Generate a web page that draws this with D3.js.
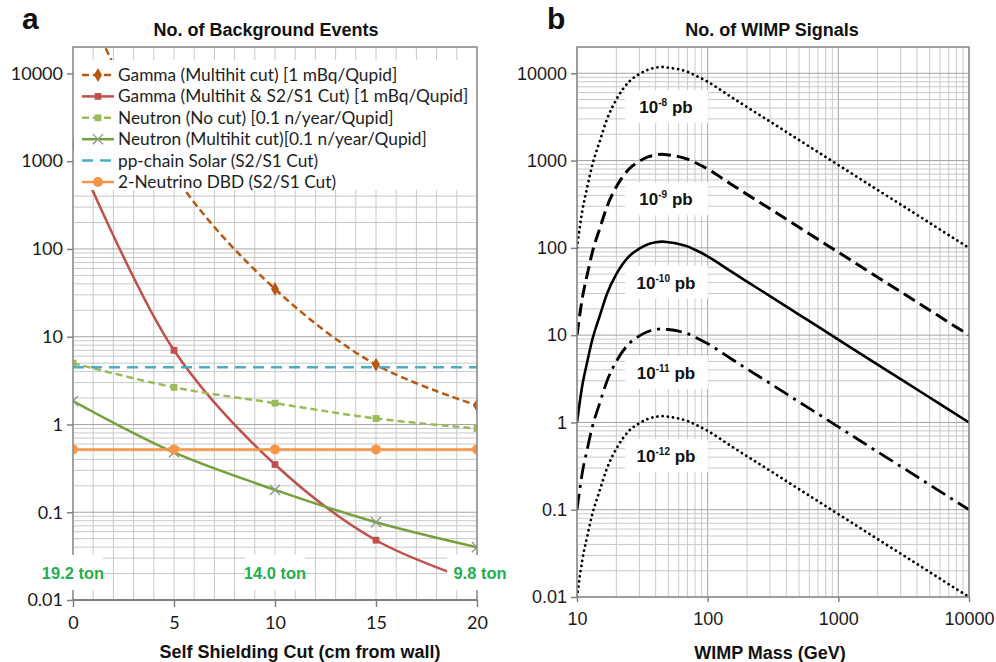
<!DOCTYPE html>
<html>
<head>
<meta charset="utf-8">
<script src="https://cdn.jsdelivr.net/npm/d3@7"></script>
<style>
  html, body { margin: 0; padding: 0; background: #ffffff; }
  svg { display: block; }
</style>
</head>
<body>
<svg id="chart" width="996" height="662"></svg>
<script>
// ---------- Panel a: background events vs. self-shielding cut ----------
const shieldCut = [0, 5, 10, 15, 20];
const gammaMultihit = [120000, 700, 35, 4.8, 1.65];
const gammaMultihitS2S1 = [1500, 7, 0.35, 0.048, 0.016];
const neutronNoCut = [5.0, 2.65, 1.75, 1.17, 0.9];
const neutronMultihit = [1.85, 0.48, 0.18, 0.077, 0.04];
const ppChainSolar = [4.5, 4.5, 4.5, 4.5, 4.5];
const twoNeutrinoDBD = [0.52, 0.52, 0.52, 0.52, 0.52];
const seriesNamesA = [
  "Gamma (Multihit cut) [1 mBq/Qupid]",
  "Gamma (Multihit & S2/S1 Cut) [1 mBq/Qupid]",
  "Neutron (No cut) [0.1 n/year/Qupid]",
  "Neutron (Multihit cut)[0.1 n/year/Qupid]",
  "pp-chain Solar (S2/S1 Cut)",
  "2-Neutrino DBD (S2/S1 Cut)"
];
const fiducialCut = [0, 10, 20];
const fiducialMass = ["19.2 ton", "14.0 ton", "9.8 ton"];
const cutTicks = [0, 5, 10, 15, 20];
const countTicks = [0.01, 0.1, 1, 10, 100, 1000, 10000];

// ---------- Panel b: WIMP signals vs. WIMP mass ----------
const wimpMass = [10, 11, 12, 13, 15, 17, 20, 25, 30, 35, 40, 45, 50, 60, 70, 80, 100, 150, 200, 300, 500, 700, 1000, 2000, 3000, 5000, 7000, 10000];
const signal1e8 = [100, 270, 500, 850, 1700, 3000, 5000, 8000, 9800, 11000, 11600, 11800, 11600, 11100, 10400, 9500, 8000, 5400, 4100, 2800, 1720, 1250, 890, 460, 314, 193, 140, 100];
const signal1e9 = [10, 27, 50, 85, 170, 300, 500, 800, 980, 1100, 1160, 1180, 1160, 1110, 1040, 950, 800, 540, 410, 280, 172, 125, 89, 46, 31.4, 19.3, 14.0, 10];
const signal1e10 = [1, 2.7, 5.0, 8.5, 17, 30, 50, 80, 98, 110, 116, 118, 116, 111, 104, 95, 80, 54, 41, 28, 17.2, 12.5, 8.9, 4.6, 3.14, 1.93, 1.40, 1.0];
const signal1e11 = [0.1, 0.27, 0.5, 0.85, 1.7, 3.0, 5.0, 8.0, 9.8, 11, 11.6, 11.8, 11.6, 11.1, 10.4, 9.5, 8.0, 5.4, 4.1, 2.8, 1.72, 1.25, 0.89, 0.46, 0.314, 0.193, 0.140, 0.1];
const signal1e12 = [0.01, 0.027, 0.05, 0.085, 0.17, 0.3, 0.5, 0.8, 0.98, 1.1, 1.16, 1.18, 1.16, 1.11, 1.04, 0.95, 0.8, 0.54, 0.41, 0.28, 0.172, 0.125, 0.089, 0.046, 0.0314, 0.0193, 0.0140, 0.01];
const crossSectionExp = ["-8", "-9", "-10", "-11", "-12"];
const massTicks = [10, 100, 1000, 10000];

// ---------- shared styling ----------
const boldFont = "'Liberation Sans', Arial, sans-serif";
const tickFontA = "Lato, 'Open Sans', sans-serif";
const tickFontB = "'Liberation Sans', Arial, sans-serif";
const legendFont = "Lato, 'Open Sans', sans-serif";
const gridMinor = "#c8c8c8";
const gridMajor = "#a4a4a4";
const frameColor = "#8c8c8c";
const tonGreen = "#1faf4b";

const svg = d3.select("#chart");

function fmtCount(d) { return d < 1 ? String(d) : d3.format("d")(d); }

// =====================================================================
// Panel a
// =====================================================================
const ax = d3.scaleLinear().domain([0, 20]).range([73, 477]);
const ay = d3.scaleLog().domain([0.01, 20000]).range([600, 47]);
const gA = svg.append("g");

gA.append("clipPath").attr("id", "clipA")
  .append("rect").attr("x", ax(0)).attr("y", ay(20000))
  .attr("width", ax(20) - ax(0)).attr("height", ay(0.01) - ay(20000));

// grid
const gridA = gA.append("g");
gridA.selectAll("line.v").data(d3.range(0, 21, 1)).join("line")
  .attr("x1", d => ax(d)).attr("x2", d => ax(d))
  .attr("y1", ay(20000)).attr("y2", ay(0.01))
  .attr("stroke", gridMinor).attr("stroke-width", 1);
gridA.selectAll("line.h").data(ay.ticks().filter(v => v <= 20000)).join("line")
  .attr("x1", ax(0)).attr("x2", ax(20))
  .attr("y1", d => ay(d)).attr("y2", d => ay(d))
  .attr("stroke", d => countTicks.includes(d) ? gridMajor : gridMinor)
  .attr("stroke-width", 1);

const seriesA = [
  { name: seriesNamesA[0], values: gammaMultihit, color: "#b9570f", dash: "7,4", marker: "diamond", smooth: true },
  { name: seriesNamesA[1], values: gammaMultihitS2S1, color: "#c0504d", dash: null, marker: "square", smooth: true },
  { name: seriesNamesA[2], values: neutronNoCut, color: "#9bbb59", dash: "7,4", marker: "square", smooth: true },
  { name: seriesNamesA[3], values: neutronMultihit, color: "#77a03c", dash: null, marker: "x", smooth: true },
  { name: seriesNamesA[4], values: ppChainSolar, color: "#4bacc6", dash: "11,7", marker: null, smooth: false },
  { name: seriesNamesA[5], values: twoNeutrinoDBD, color: "#f79646", dash: null, marker: "circle", smooth: false }
];

function drawMarker(sel, type, color) {
  if (type === "diamond") {
    sel.append("path").attr("d", d3.symbol(d3.symbolDiamond, 55)()).attr("fill", color);
  } else if (type === "square") {
    sel.append("path").attr("d", d3.symbol(d3.symbolSquare, 46)()).attr("fill", color);
  } else if (type === "x") {
    sel.append("path").attr("d", d3.symbol(d3.symbolTimes, 70)())
      .attr("fill", "none").attr("stroke", "#8a9a80").attr("stroke-width", 1.3);
  } else if (type === "circle") {
    sel.append("path").attr("d", d3.symbol(d3.symbolCircle, 78)()).attr("fill", color);
  }
}

const plotA = gA.append("g").attr("clip-path", "url(#clipA)");
seriesA.forEach(s => {
  const pts = shieldCut.map((c, i) => [c, s.values[i]]);
  const line = d3.line().x(d => ax(d[0])).y(d => ay(d[1]))
    .curve(s.smooth ? d3.curveCatmullRom.alpha(0.5) : d3.curveLinear);
  plotA.append("path").attr("d", line(pts))
    .attr("fill", "none").attr("stroke", s.color).attr("stroke-width", 2.5)
    .attr("stroke-dasharray", s.dash);
  if (s.marker) {
    pts.forEach(p => {
      const m = plotA.append("g").attr("transform", `translate(${ax(p[0])},${ay(p[1])})`);
      drawMarker(m, s.marker, s.color);
    });
  }
});

// legend (white box over the plot)
const legA = gA.append("g");
legA.append("rect").attr("x", ax(0) + 1).attr("y", 60)
  .attr("width", ax(20) - ax(0) - 2).attr("height", 130).attr("fill", "#ffffff");
seriesA.forEach((s, i) => {
  const y = 75 + i * 21.4;
  legA.append("line").attr("x1", 82).attr("x2", 114).attr("y1", y).attr("y2", y)
    .attr("stroke", s.color).attr("stroke-width", 2.5).attr("stroke-dasharray", s.dash);
  if (s.marker) {
    const m = legA.append("g").attr("transform", `translate(98,${y})`);
    drawMarker(m, s.marker, s.color);
  }
  legA.append("text").attr("x", 118).attr("y", y + 6)
    .attr("font-family", legendFont).attr("font-size", 17.3).attr("fill", "#1e1e1e")
    .text(s.name);
});

// frame
gA.append("rect").attr("x", ax(0)).attr("y", ay(20000))
  .attr("width", ax(20) - ax(0)).attr("height", ay(0.01) - ay(20000))
  .attr("fill", "none").attr("stroke", frameColor).attr("stroke-width", 1.5);

// fiducial-mass labels
fiducialCut.forEach((c, i) => {
  const cx = ax(c), cy = 573;
  gA.append("rect").attr("x", cx - 30).attr("y", cy - 18).attr("width", 60).attr("height", 35)
    .attr("fill", "#ffffff");
  gA.append("text").attr("x", cx + (i === 2 ? 3 : 0)).attr("y", cy + 6)
    .attr("text-anchor", "middle").attr("font-family", boldFont).attr("font-weight", "bold")
    .attr("font-size", 16.5).attr("fill", tonGreen).text(fiducialMass[i]);
});

// axes
const axisLeftA = gA.append("g").attr("transform", `translate(${ax(0)},0)`)
  .call(d3.axisLeft(ay).tickValues(countTicks).tickFormat(fmtCount).tickSize(6).tickPadding(4));
const axisBottomA = gA.append("g").attr("transform", `translate(0,${ay(0.01)})`)
  .call(d3.axisBottom(ax).tickValues(cutTicks).tickSize(7).tickPadding(9));
[axisLeftA, axisBottomA].forEach(a => {
  a.select(".domain").remove();
  a.selectAll(".tick line").attr("stroke", "#808080").attr("stroke-width", 1.5);
  a.selectAll(".tick text").attr("font-family", tickFontA).attr("font-size", 18).attr("fill", "#1a1a1a");
});
gA.append("line").attr("x1", ax(0)).attr("x2", ax(20)).attr("y1", ay(0.01)).attr("y2", ay(0.01))
  .attr("stroke", "#808080").attr("stroke-width", 2);

// titles
svg.append("text").attr("x", 22).attr("y", 29).attr("font-family", "'Liberation Sans', Arial, sans-serif")
  .attr("font-weight", "bold").attr("font-size", 30).attr("fill", "#111").text("a");
svg.append("text").attr("x", 266).attr("y", 36).attr("text-anchor", "middle")
  .attr("font-family", boldFont).attr("font-weight", "bold").attr("font-size", 18).attr("fill", "#111")
  .text("No. of Background Events");
svg.append("text").attr("x", 300).attr("y", 658).attr("text-anchor", "middle")
  .attr("font-family", boldFont).attr("font-weight", "bold").attr("font-size", 18).attr("fill", "#111")
  .text("Self Shielding Cut (cm from wall)");

// =====================================================================
// Panel b
// =====================================================================
const bx = d3.scaleLog().domain([10, 10000]).range([577, 969]);
const by = d3.scaleLog().domain([0.01, 20000]).range([597, 47]);
const gB = svg.append("g");

gB.append("clipPath").attr("id", "clipB")
  .append("rect").attr("x", bx(10)).attr("y", by(20000))
  .attr("width", bx(10000) - bx(10)).attr("height", by(0.01) - by(20000));

const gridB = gB.append("g");
gridB.selectAll("line.v").data(bx.ticks()).join("line")
  .attr("x1", d => bx(d)).attr("x2", d => bx(d))
  .attr("y1", by(20000)).attr("y2", by(0.01))
  .attr("stroke", d => massTicks.includes(d) ? gridMajor : gridMinor).attr("stroke-width", 1);
gridB.selectAll("line.h").data(by.ticks().filter(v => v <= 20000)).join("line")
  .attr("x1", bx(10)).attr("x2", bx(10000))
  .attr("y1", d => by(d)).attr("y2", d => by(d))
  .attr("stroke", d => countTicks.includes(d) ? gridMajor : gridMinor).attr("stroke-width", 1);

const seriesB = [
  { values: signal1e8, dash: "0.01,5.2", cap: "round", width: 2.8 },
  { values: signal1e9, dash: "13,6", cap: "butt", width: 3 },
  { values: signal1e10, dash: null, cap: "butt", width: 2.6 },
  { values: signal1e11, dash: "16,6,3,6", cap: "butt", width: 2.8 },
  { values: signal1e12, dash: "0.01,5.2", cap: "round", width: 2.8 }
];
const plotB = gB.append("g").attr("clip-path", "url(#clipB)");
const lineB = d3.line().x(d => bx(d[0])).y(d => by(d[1])).curve(d3.curveMonotoneX);
seriesB.forEach(s => {
  plotB.append("path").attr("d", lineB(wimpMass.map((m, i) => [m, s.values[i]])))
    .attr("fill", "none").attr("stroke", "#000").attr("stroke-width", s.width)
    .attr("stroke-dasharray", s.dash).attr("stroke-linecap", s.cap);
});

// cross-section labels
const labelAnchors = [4100, 360, 40, 3.7, 0.41];
crossSectionExp.forEach((e, i) => {
  const cx = bx(48), cy = by(labelAnchors[i]);
  gB.append("rect").attr("x", cx - 41).attr("y", cy - 17).attr("width", 83).attr("height", 33)
    .attr("fill", "#ffffff");
  const t = gB.append("text").attr("x", cx).attr("y", cy + 6).attr("text-anchor", "middle")
    .attr("font-family", boldFont).attr("font-weight", "bold").attr("font-size", 17).attr("fill", "#111");
  t.append("tspan").text("10");
  t.append("tspan").attr("font-size", 10).attr("dy", -7).text(e);
  t.append("tspan").attr("dy", 7).text(" pb");
});

gB.append("rect").attr("x", bx(10)).attr("y", by(20000))
  .attr("width", bx(10000) - bx(10)).attr("height", by(0.01) - by(20000))
  .attr("fill", "none").attr("stroke", frameColor).attr("stroke-width", 1.5);

const axisLeftB = gB.append("g").attr("transform", `translate(${bx(10)},0)`)
  .call(d3.axisLeft(by).tickValues(countTicks).tickFormat(fmtCount).tickSize(6).tickPadding(4));
const axisBottomB = gB.append("g").attr("transform", `translate(0,${by(0.01)})`)
  .call(d3.axisBottom(bx).tickValues(massTicks).tickFormat(d3.format("d")).tickSize(5).tickPadding(10));
[axisLeftB, axisBottomB].forEach(a => {
  a.select(".domain").remove();
  a.selectAll(".tick line").attr("stroke", "#808080").attr("stroke-width", 1.5);
  a.selectAll(".tick text").attr("font-family", tickFontB).attr("font-size", 18).attr("fill", "#1a1a1a");
});

svg.append("text").attr("x", 547).attr("y", 29).attr("font-family", "'Liberation Sans', Arial, sans-serif")
  .attr("font-weight", "bold").attr("font-size", 30).attr("fill", "#111").text("b");
svg.append("text").attr("x", 772).attr("y", 36).attr("text-anchor", "middle")
  .attr("font-family", boldFont).attr("font-weight", "bold").attr("font-size", 18).attr("fill", "#111")
  .text("No. of WIMP Signals");
svg.append("text").attr("x", 770).attr("y", 659).attr("text-anchor", "middle")
  .attr("font-family", boldFont).attr("font-weight", "bold").attr("font-size", 18).attr("fill", "#111")
  .text("WIMP Mass (GeV)");
</script>
</body>
</html>
